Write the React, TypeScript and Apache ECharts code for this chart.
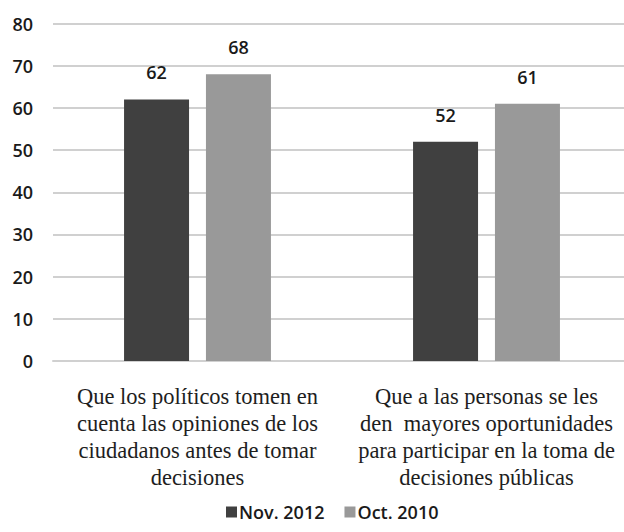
import React, { useEffect, useRef } from "react";
import * as echarts from "echarts";

const categories = [
  "Que los políticos tomen en\ncuenta las opiniones de los\nciudadanos antes de tomar\ndecisiones",
  "Que a las personas se les\nden  mayores oportunidades\npara participar en la toma de\ndecisiones públicas",
];
const seriesNames = ["Nov. 2012", "Oct. 2010"];
const nov2012 = [62, 52];
const oct2010 = [68, 61];
const yTicks = { min: 0, max: 80, interval: 10 };

const SANS = "'Open Sans', 'Noto Sans', sans-serif";
const SERIF = "'Liberation Serif', 'DejaVu Serif', serif";

export default function App() {
  const ref = useRef<HTMLDivElement>(null);
  useEffect(() => {
    if (!ref.current) return;
    const chart = echarts.init(ref.current, null, { renderer: "svg" });
    const label = {
      show: true,
      position: "top",
      distance: 18,
      color: "#1a1a1a",
      fontFamily: SANS,
      fontSize: 18,
      fontWeight: 600,
    };
    chart.setOption({
      animation: false,
      backgroundColor: "#ffffff",
      grid: { left: 53, width: 578, top: 23.5, bottom: 171, containLabel: false },
      legend: {
        left: 221,
        bottom: 6,
        itemWidth: 11,
        itemHeight: 11,
        itemGap: 20,
        icon: "rect",
        textStyle: { fontFamily: SANS, fontSize: 18, fontWeight: 600, color: "#1a1a1a", padding: [0, 0, 0, -3] },
        data: seriesNames,
      },
      xAxis: {
        type: "category",
        data: categories,
        axisLine: { show: true, lineStyle: { color: "#d0d0d0", width: 2 } },
        axisTick: { show: false },
        axisLabel: {
          interval: 0,
          margin: 22,
          fontFamily: SERIF,
          fontSize: 22.5,
          lineHeight: 27,
          color: "#1e1e1e",
          align: "center",
        },
      },
      yAxis: {
        type: "value",
        min: yTicks.min,
        max: yTicks.max,
        interval: yTicks.interval,
        axisLine: { show: false },
        axisTick: { show: false },
        splitLine: { lineStyle: { color: "#d0d0d0", width: 2 } },
        axisLabel: { margin: 20, fontFamily: SANS, fontSize: 18, fontWeight: 600, color: "#1a1a1a" },
      },
      series: [
        {
          name: seriesNames[0],
          type: "bar",
          data: nov2012,
          barWidth: 65,
          barGap: "26%",
          itemStyle: { color: "#404040" },
          label,
        },
        {
          name: seriesNames[1],
          type: "bar",
          data: oct2010,
          barWidth: 65,
          barGap: "26%",
          itemStyle: { color: "#999999" },
          label,
        },
      ],
    });
    return () => chart.dispose();
  }, []);
  return (
    <div style={{ position: "fixed", left: 0, top: 0, width: 624, height: 532, overflow: "hidden", background: "#fff" }}>
      <div ref={ref} style={{ position: "absolute", left: 0, top: 0, width: 640, height: 532 }} />
    </div>
  );
}
